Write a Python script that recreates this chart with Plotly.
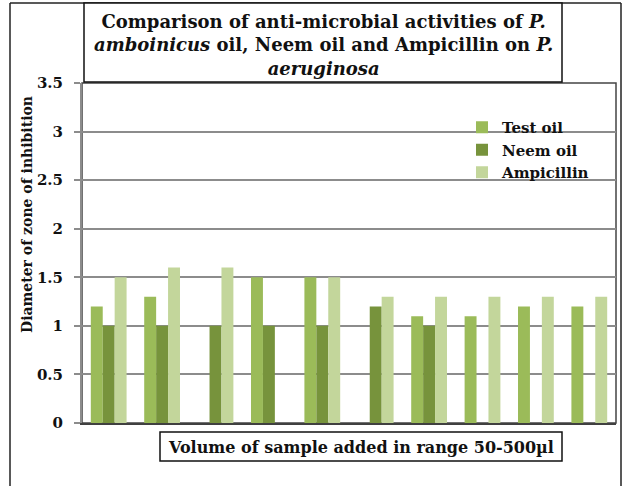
import plotly.graph_objects as go

categories = ["1", "2", "3", "4", "5", "6", "7", "8", "9", "10"]
test_oil = [1.2, 1.3, None, 1.5, 1.5, None, 1.1, 1.1, 1.2, 1.2]
neem_oil = [1.0, 1.0, 1.0, 1.0, 1.0, 1.2, 1.0, None, None, None]
ampicillin = [1.5, 1.6, 1.6, None, 1.5, 1.3, 1.3, 1.3, 1.3, 1.3]
series_names = ["Test oil", "Neem oil", "Ampicillin"]
colors = ["#9BBB59", "#77933C", "#C3D69B"]
y_ticks = [0, 0.5, 1, 1.5, 2, 2.5, 3, 3.5]
y_tick_text = ["0", "0.5", "1", "1.5", "2", "2.5", "3", "3.5"]

W, H = 623, 486
L, R, T, B = 82, 616, 83, 423
PW, PH = R - L, B - T


def px(x):
    return (x - L) / PW


def py(y):
    return (B - y) / PH


FONT = "DejaVu Serif"

fig = go.Figure()
for name, vals, col in zip(series_names, [test_oil, neem_oil, ampicillin], colors):
    fig.add_trace(go.Bar(x=categories, y=vals, name=name, marker=dict(color=col, line=dict(width=0))))

shapes = [
    # outer frame
    dict(type="line", xref="paper", yref="paper", x0=px(10), x1=px(10), y0=py(3), y1=py(490),
         line=dict(color="#222222", width=1.5)),
    dict(type="line", xref="paper", yref="paper", x0=px(10), x1=px(621), y0=py(3), y1=py(3),
         line=dict(color="#222222", width=1.5)),
    dict(type="line", xref="paper", yref="paper", x0=px(621), x1=px(621), y0=py(3), y1=py(490),
         line=dict(color="#222222", width=1.5)),
    # title box
    dict(type="rect", xref="paper", yref="paper", x0=px(84), x1=px(562), y0=py(82), y1=py(3),
         line=dict(color="#111111", width=1.5), fillcolor="white"),
    # plot border
    dict(type="rect", xref="paper", yref="paper", x0=0, x1=1, y0=0, y1=1,
         line=dict(color="#444444", width=1.5), layer="below"),
    # x title box
    dict(type="rect", xref="paper", yref="paper", x0=px(160), x1=px(562), y0=py(461), y1=py(432),
         line=dict(color="#111111", width=1.5), fillcolor="white"),
]

annotations = [
    dict(text="<b>Comparison of anti-microbial activities of <i>P.</i></b><br>"
              "<b><i>amboinicus</i> oil, Neem oil and Ampicillin on <i>P.</i></b><br>"
              "<b><i>aeruginosa</i></b>",
         xref="paper", yref="paper", x=px(323), y=py(45), xanchor="center", yanchor="middle",
         showarrow=False, font=dict(family=FONT, size=18, color="#111111")),
    dict(text="<b>Volume of sample added in range 50-500µl</b>",
         xref="paper", yref="paper", x=px(361), y=py(447), xanchor="center", yanchor="middle",
         showarrow=False, font=dict(family=FONT, size=16, color="#111111")),
    dict(text="<b>Diameter of zone of inhibition</b>", textangle=-90,
         xref="paper", yref="paper", x=px(27), y=py(215), xanchor="center", yanchor="middle",
         showarrow=False, font=dict(family=FONT, size=14, color="#111111")),
]

fig.update_layout(
    width=W, height=H,
    margin=dict(l=L, r=W - R, t=T, b=H - B, pad=0),
    paper_bgcolor="white", plot_bgcolor="white",
    barmode="group", bargap=0.33, bargroupgap=0,
    shapes=shapes, annotations=annotations,
    showlegend=True,
    legend=dict(x=px(462), y=py(111), xanchor="left", yanchor="top",
                bgcolor="rgba(0,0,0,0)", borderwidth=0,
                font=dict(family=FONT, size=15, color="#111111", weight="bold"),
                tracegroupgap=0, itemsizing="constant"),
    xaxis=dict(showticklabels=False, showgrid=False, zeroline=False, ticks="",
               showline=True, linecolor="#404040", linewidth=2, layer="below traces",
               fixedrange=True),
    yaxis=dict(range=[0, 3.5], tickvals=y_ticks, ticktext=y_tick_text,
               showgrid=True, gridcolor="#8C8C8C", gridwidth=2,
               zeroline=False, showline=True, linecolor="#8C8C8C", linewidth=2,
               ticks="outside", ticklen=6, tickcolor="#8C8C8C", tickwidth=2,
               ticklabelstandoff=8,
               tickfont=dict(family=FONT, size=15, color="#111111", weight="bold"),
               layer="below traces", fixedrange=True),
)

fig.write_html("out.html")
